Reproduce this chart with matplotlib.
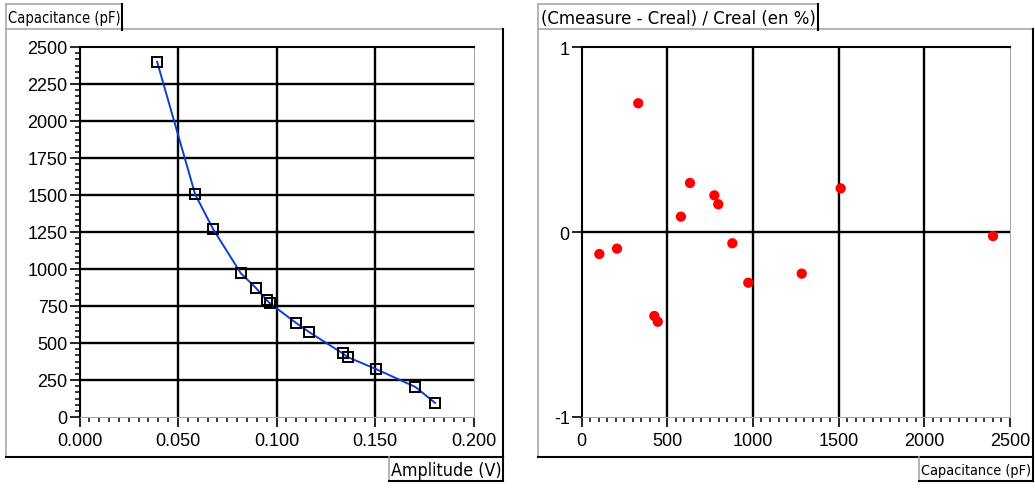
import numpy as np
import matplotlib
matplotlib.use("Agg")
import matplotlib.pyplot as plt
from matplotlib.ticker import MultipleLocator
from matplotlib import font_manager

# data
amplitude = [0.0394, 0.0587, 0.0678, 0.0819, 0.0894, 0.0950, 0.0965, 0.1100,
             0.1163, 0.1336, 0.1361, 0.1505, 0.1705, 0.1805]
capacitance = [2400, 1505, 1270, 971, 874, 790, 770, 635, 576, 430, 405, 324, 203, 95]

c_meas = [104, 207, 331, 425, 445, 580, 633, 775, 798, 880, 973, 1285, 1512, 2401]
rel_err = [-0.119, -0.090, 0.696, -0.454, -0.485, 0.083, 0.265, 0.198, 0.150,
           -0.061, -0.274, -0.225, 0.236, -0.022]

left_xticks = [0.0, 0.05, 0.10, 0.15, 0.20]
left_yticks = list(range(0, 2501, 250))
right_xticks = [0, 500, 1000, 1500, 2000, 2500]
right_yticks = [-1, 0, 1]

plt.rcParams['font.family'] = ['Liberation Sans', 'DejaVu Sans']
plt.rcParams['axes.unicode_minus'] = False

# look for a condensed sans face (regular weight) for the axis titles
title_fp = font_manager.FontProperties(family='Liberation Sans', size=10)
cands = []
for f in font_manager.fontManager.ttflist:
    low = f.fname.lower()
    if ('narrow' in low or 'condensed' in low) and 'bold' not in low \
            and 'italic' not in low and 'oblique' not in low and 'mono' not in low \
            and 'serif' not in low.replace('sans', ''):
        cands.append(f.fname)
cands.sort(key=lambda p: (0 if 'liberation' in p.lower() else 1, p))
if cands:
    title_fp = font_manager.FontProperties(fname=cands[0], size=10)

W, H = 1035, 489
fig = plt.figure(figsize=(W / 100, H / 100), dpi=100)

def px_axes(x0, y0, x1, y1):
    return fig.add_axes([x0 / W, 1 - y1 / H, (x1 - x0) / W, (y1 - y0) / H])

GRAY = '#a8a8a8'

# overlay for boxes and axis titles
ov = fig.add_axes([0, 0, 1, 1])
ov.set_xlim(0, W)
ov.set_ylim(H, 0)
ov.axis('off')

def seg(x0, y0, x1, y1, c, lw=1.2):
    ov.plot([x0, x1], [y0, y1], color=c, lw=lw, solid_capstyle='projecting')

def panel(x0, x1, lab_right, foot_left):
    # outer box
    seg(x0, 30, x1, 30, GRAY)
    seg(x0, 30, x0, 458, GRAY)
    seg(x1, 30, x1, 458, 'black', 1.5)
    seg(x0, 458, x1, 458, 'black', 1.5)
    # title box
    seg(x0, 5, lab_right, 5, GRAY)
    seg(x0, 5, x0, 30, GRAY)
    seg(lab_right, 5, lab_right, 31, 'black', 1.5)
    # footer box
    seg(foot_left, 458, foot_left, 482, GRAY)
    seg(foot_left, 482, x1, 482, 'black', 1.5)
    seg(x1, 458, x1, 482, 'black', 1.5)

panel(6, 503, 122, 389)
panel(538, 1033, 818, 919)

renderer = fig.canvas.get_renderer()

def fit_text(x0, x1, yc, s, maxsize=16):
    t = ov.text((x0 + x1) / 2, yc, s, ha='center', va='center',
                fontproperties=title_fp.copy())
    w = t.get_window_extent(renderer).width
    t.set_fontsize(min(maxsize, 10 * (x1 - x0) / w))
    return t

fit_text(8, 120, 18.5, 'Capacitance (pF)')
fit_text(391, 501, 471, 'Amplitude (V)')
fit_text(541, 816, 18.5, '(Cmeasure - Creal) / Creal (en %)')
fit_text(921, 1031, 471, 'Capacitance (pF)')

def style(ax):
    ax.spines['left'].set_color('black')
    ax.spines['left'].set_linewidth(1.5)
    ax.spines['top'].set_color('black')
    ax.spines['top'].set_linewidth(1.5)
    ax.spines['right'].set_color(GRAY)
    ax.spines['bottom'].set_color(GRAY)
    ax.tick_params(which='major', direction='out', length=7, width=1.2,
                   labelsize=13, colors='black')
    ax.tick_params(axis='x', which='major', pad=4)
    ax.tick_params(axis='y', which='major', pad=1.5)
    ax.tick_params(which='minor', direction='out', length=3.5, width=1.1)
    ax.tick_params(top=False, right=False)

# left panel
ax1 = px_axes(79.5, 48, 473.5, 418)
ax1.set_xlim(0, 0.2)
ax1.set_ylim(0, 2500)
ax1.set_xticks(left_xticks)
ax1.set_xticklabels(['%.3f' % v for v in left_xticks])
ax1.set_yticks(left_yticks)
ax1.xaxis.set_minor_locator(MultipleLocator(0.005))
ax1.yaxis.set_minor_locator(MultipleLocator(250 / 6))
for v in left_xticks[1:-1]:
    ax1.axvline(v, color='black', lw=1.7, zorder=1)
for v in left_yticks[1:-1]:
    ax1.axhline(v, color='black', lw=1.7, zorder=1)
ax1.plot(amplitude, capacitance, color='#0a3fd0', lw=1.4, zorder=3)
ax1.plot(amplitude, capacitance, ls='none', marker='s', ms=6.5, mfc='none',
         mec='black', mew=1.4, zorder=4)
style(ax1)

# right panel
ax2 = px_axes(581.5, 48, 1010, 418)
ax2.set_xlim(0, 2500)
ax2.set_ylim(-1, 1)
ax2.set_xticks(right_xticks)
ax2.set_yticks(right_yticks)
ax2.set_yticklabels(['-1', '0', '1'])
ax2.xaxis.set_minor_locator(MultipleLocator(50))
for v in right_xticks[1:-1]:
    ax2.axvline(v, color='black', lw=1.7, zorder=1)
ax2.axhline(0, color='black', lw=1.7, zorder=1)
ax2.scatter(c_meas, rel_err, s=55, color='#ff0000', edgecolors='none', zorder=3)
style(ax2)

fig.savefig('out.png', dpi=100)
